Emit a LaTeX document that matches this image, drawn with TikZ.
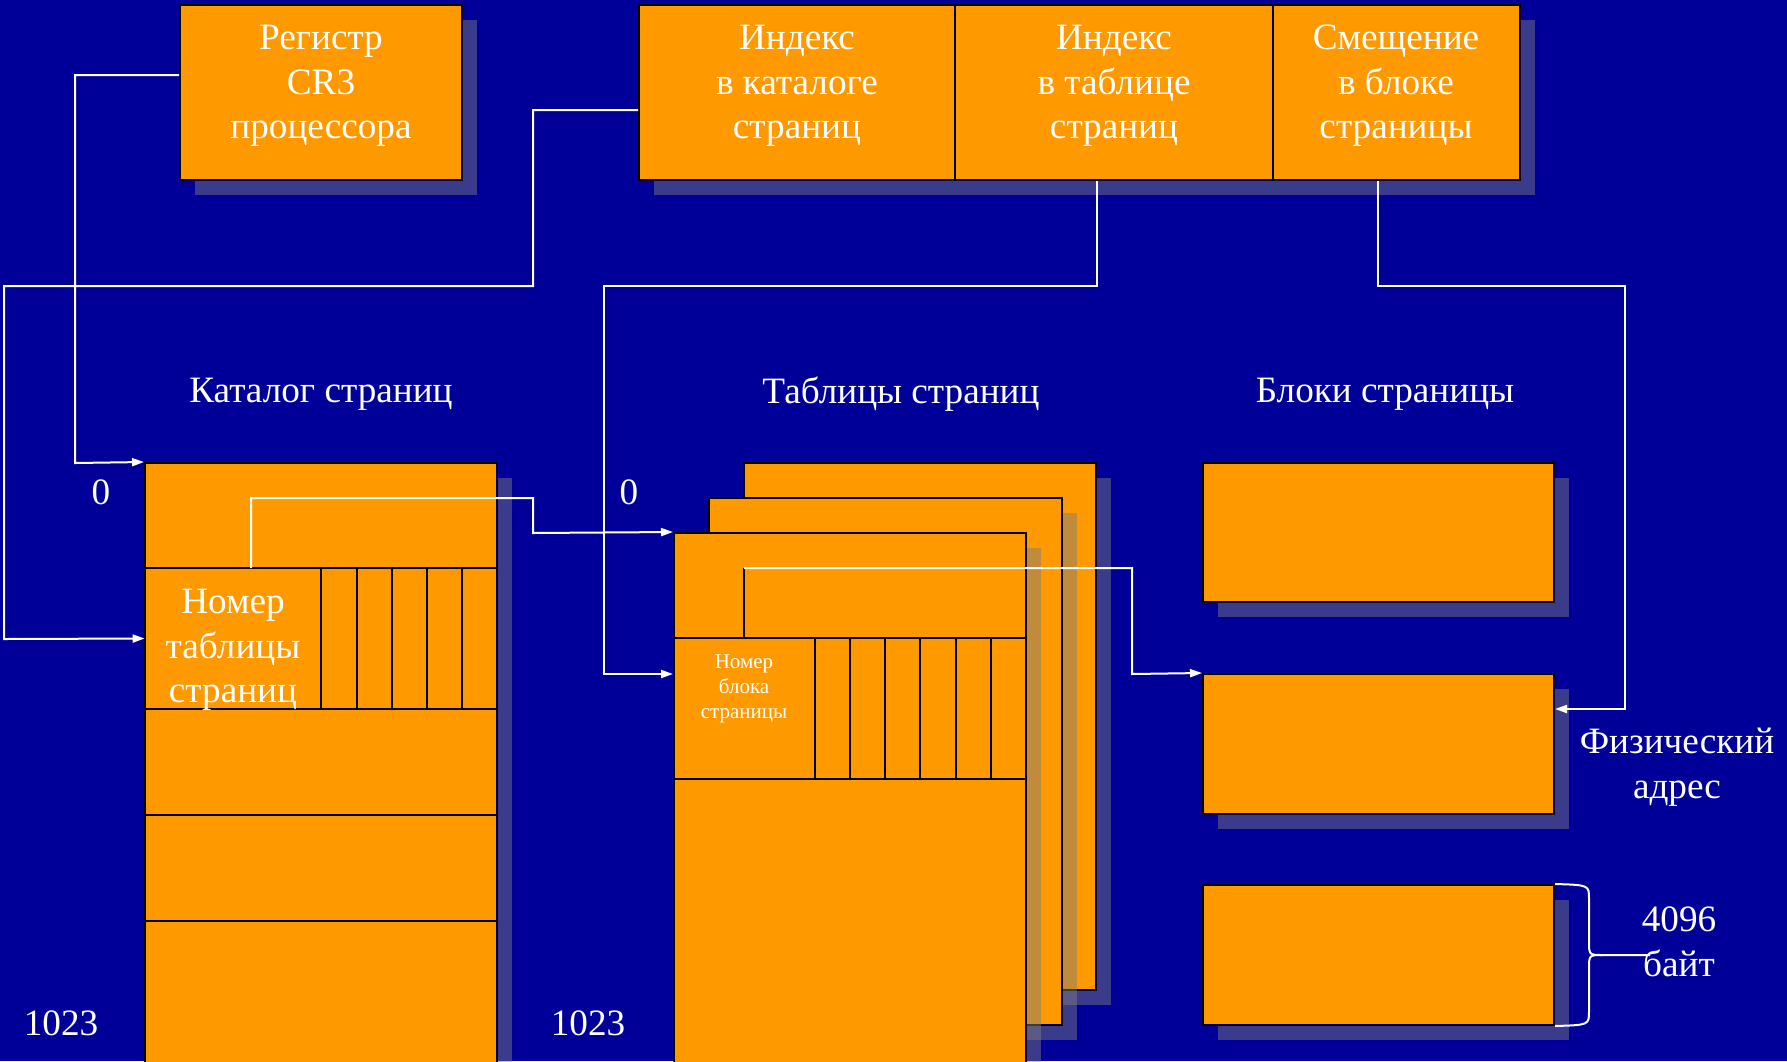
\documentclass[tikz,border=0pt]{standalone}
\usepackage{fontspec}
\setmainfont{Liberation Serif}
\usepackage{tikz}
\usetikzlibrary{calc}
\usetikzlibrary{arrows.meta}
\definecolor{slideblue}{HTML}{000099}
\definecolor{pageorange}{HTML}{FF9900}
\tikzset{
  pgbox/.style={draw=black, line width=1pt, fill=pageorange, inner sep=0pt},
  boxshade/.style={fill={rgb,255:red,125;green,125;blue,125}, fill opacity=0.48},
  cellarea/.style={inner sep=0pt},
  divline/.style={draw=black, line width=1pt},
  link/.style={draw=white, line width=1pt},
  linkarrow/.style={link, -{Triangle[length=6pt,width=4pt]}},
  biglabel/.style={text=white, font=\fontsize{18.6}{22.3}\selectfont, align=center, inner sep=0pt},
  smalllabel/.style={text=white, font=\fontsize{10.5}{12.5}\selectfont, align=center, inner sep=0pt}
}
\newcommand{\boxshadow}[4]{ \fill[boxshade] (#1+15,#2+15) rectangle (#3+15,#4+15);}
\newcommand{\pgnode}[5]{ \node[pgbox, minimum width={(#4-#2)*0.5pt}, minimum height={(#5-#3)*0.5pt}] (#1) at ({(#2+#4)/2},{(#3+#5)/2}) {};}
\newcommand{\shbox}[5]{ \boxshadow{#2}{#3}{#4}{#5} \pgnode{#1}{#2}{#3}{#4}{#5}}
\newcommand{\cellnode}[5]{ \node[cellarea, minimum width={(#4-#2)*0.5pt}, minimum height={(#5-#3)*0.5pt}] (#1) at ({(#2+#4)/2},{(#3+#5)/2}) {};}

\begin{document}
\begin{tikzpicture}[x=0.5pt,y=-0.5pt]
    \useasboundingbox (0,0) rectangle (1787,1061);
    \fill[slideblue] (0,0) rectangle (1787,1061);
    \clip (0,0) rectangle (1787,1061);

    \shbox{cr3}{180}{5}{462}{180}
    \node[biglabel] (cr3txt) at (321,86) {Регистр\\CR3\\процессора};

    \boxshadow{639}{5}{1520}{180}
    \pgnode{dirix}{639}{5}{955}{180}
    \pgnode{tblix}{955}{5}{1273}{180}
    \pgnode{offs}{1273}{5}{1520}{180}
    \node[biglabel] (dirixtxt) at (797,86) {Индекс\\в каталоге\\страниц};
    \node[biglabel] (tblixtxt) at (1114,86) {Индекс\\в таблице\\страниц};
    \node[biglabel] (offstxt) at (1396,86) {Смещение\\в блоке\\страницы};

    \node[biglabel] (cattitle) at (321,394) {Каталог страниц};
    \node[biglabel] (tabtitle) at (901,394) {Таблицы страниц};
    \node[biglabel] (blktitle) at (1385,394) {Блоки страницы};

    \shbox{cat}{145}{463}{497}{1080}
    \foreach \y in {568,709,815,921} \draw[divline] (145,\y) -- (497,\y);
    \foreach \x in {321,357,392,427,462} \draw[divline] (\x,568) -- (\x,709);
    \cellnode{catentry}{145}{568}{321}{709}
    \node[biglabel] (catentrytxt) at (233,650) {Номер\\таблицы\\страниц};
    \node[biglabel] (catzero) at (101,492) {0};
    \node[biglabel] (catlast) at (61,1023) {1023};

    \shbox{tabback}{744}{463}{1096}{990}
    \shbox{tabmid}{709}{498}{1062}{1025}
    \shbox{tabfront}{674}{533}{1026}{1080}
    \foreach \y in {638,779} \draw[divline] (674,\y) -- (1026,\y);
    \foreach \x in {815,850,885,920,956,991} \draw[divline] (\x,638) -- (\x,779);
    \draw[divline] (744,568) -- (744,638);
    \cellnode{ptentry}{674}{638}{815}{779}
    \node[smalllabel] (ptentrytxt) at (744,689) {Номер\\блока\\страницы};
    \node[biglabel] (tabzero) at (629,492) {0};
    \node[biglabel] (tablast) at (588,1023) {1023};

    \shbox{blk1}{1203}{463}{1554}{602}
    \shbox{blk2}{1203}{674}{1554}{814}
    \shbox{blk3}{1203}{885}{1554}{1025}
    \node[biglabel] (physaddr) at (1677,767) {Физический\\адрес};
    \node[biglabel] (blksize) at (1679,942) {4096\\байт};

    \coordinate (catptr) at (251,568);
    \coordinate (ptptr) at (744,568);

    \draw[linkarrow] (cr3.west |- 0,75) -| (75,463) -- (cat.north west);
    \draw[linkarrow] (dirix.west |- 0,110) -| (533,286) -| (4,639) -- (catentry.west);
    \draw[linkarrow] (tblix.south -| 1097,0) -- (1097,286) -| (604,674) -- (tabfront.west |- 0,674);
    \draw[linkarrow] (offs.south -| 1378,0) -- (1378,286) -| (1625,709) -- (blk2.east |- 0,709);
    \draw[linkarrow] (catptr) -- (251,498) -| (533,533) -- (tabfront.north west);
    \draw[linkarrow] (ptptr) -- (1132,568) -- (1132,674) -- (blk2.north west);

    \draw[link] (blk3.north east) .. controls (1589,885) .. (1589,899) -- (1589,941) .. controls (1589,955) .. (1603,955) -- (1650,955);
    \draw[link] (blk3.south east) .. controls (1589,1025) .. (1589,1011) -- (1589,969) .. controls (1589,955) .. (1603,955);
\end{tikzpicture}
\end{document}
